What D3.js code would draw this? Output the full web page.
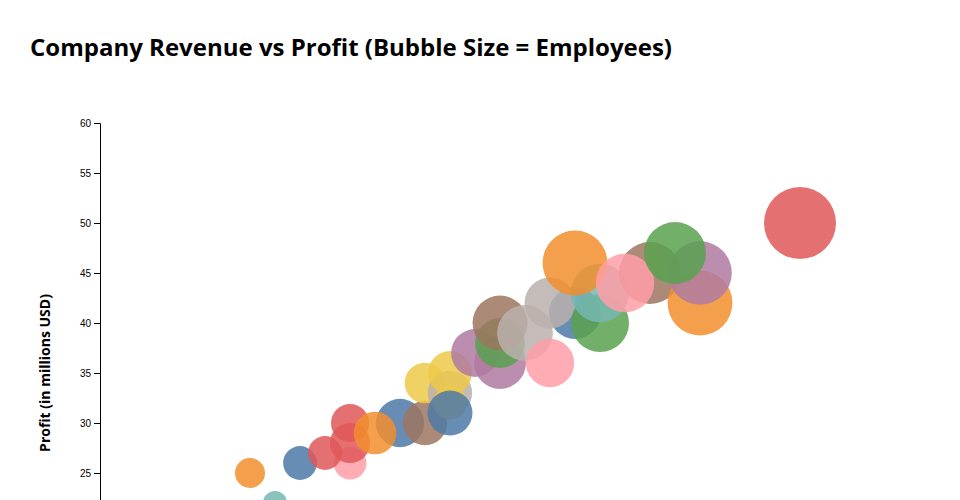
<!DOCTYPE html>
<html>
<head>
<meta charset="utf-8">
<script src="https://cdn.jsdelivr.net/npm/d3@7"></script>
<style>
	body { margin: 0; overflow: hidden; background: #fff; }
	.title { font-family: "Open Sans", sans-serif; font-weight: 700; font-size: 24px; }
	.axis-label { font-family: "Open Sans", sans-serif; font-weight: 700; font-size: 14px; }
</style>
</head>
<body>
<div id="chart"></div>
<script>
// revenue and profit in millions USD, employees as head count, sector picks the colour
var revenue   = [70, 60, 80, 100, 90, 100, 100, 120, 110, 130, 130, 140, 140, 140, 140, 150, 160, 160, 160, 170, 180, 190, 180, 200, 200, 190, 220, 210, 240, 240, 230, 280];
var profit    = [22, 25, 26, 26, 27, 28, 30, 30, 29, 30, 34, 33, 32, 35, 31, 37, 36, 38, 40, 39, 36, 41, 42, 40, 43, 46, 45, 44, 42, 45, 47, 50];
var employees = [5600, 8700, 11000, 10500, 11000, 15500, 14000, 22500, 17500, 19000, 16000, 19000, 11000, 18500, 19500, 22000, 26000, 24000, 29000, 30000, 22500, 26000, 25000, 32500, 33000, 40500, 37000, 33000, 40500, 39000, 37000, 50000];
var sector    = ["D", "B", "A", "H", "C", "C", "C", "A", "B", "I", "F", "J", "F", "F", "A", "G", "G", "E", "I", "J", "H", "A", "J", "E", "D", "B", "I", "H", "B", "G", "E", "C"];
var sectors   = ["A", "B", "C", "D", "E", "F", "G", "H", "I", "J"];

var data = revenue.map(function(d, i){
	return {revenue: d, profit: profit[i], employees: employees[i], sector: sector[i]};
});

var width = 960, height = 700,
	margins = {top: 123, right: 60, bottom: 77, left: 100},
	chart_w = width - margins.left - margins.right,
	chart_h = height - margins.top - margins.bottom;

var svg = d3.select("#chart")
	.append("svg")
		.attr("width", width)
		.attr("height", height);

svg.append("text")
	.attr("class", "title")
	.attr("x", 30)
	.attr("y", 56)
	.text("Company Revenue vs Profit (Bubble Size = Employees)");

var g = svg.append("g")
	.attr("transform", "translate(" + margins.left + "," + margins.top + ")");

var x = d3.scaleLinear().domain([0, 320]).range([0, chart_w]);
var y = d3.scaleLinear().domain([10, 60]).range([chart_h, 0]);
var r = d3.scaleSqrt().domain([0, d3.max(employees)]).range([0, 36]);
var color = d3.scaleOrdinal().domain(sectors).range(d3.schemeTableau10);

g.append("g")
	.attr("transform", "translate(0," + chart_h + ")")
	.call(d3.axisBottom(x));

g.append("g")
	.call(d3.axisLeft(y));

g.selectAll("circle")
	.data(data)
	.enter()
	.append("circle")
		.attr("cx", function(d){ return x(d.revenue) })
		.attr("cy", function(d){ return y(d.profit) })
		.attr("r", function(d){ return r(d.employees) })
		.attr("fill", function(d){ return color(d.sector) })
		.attr("opacity", 0.85);

// axis titles
g.append("text")
	.attr("class", "axis-label")
	.attr("transform", "rotate(-90)")
	.attr("x", -chart_h / 2)
	.attr("y", -50)
	.attr("text-anchor", "middle")
	.text("Profit (in millions USD)");

g.append("text")
	.attr("class", "axis-label")
	.attr("x", chart_w / 2)
	.attr("y", chart_h + 45)
	.attr("text-anchor", "middle")
	.text("Revenue (in millions USD)");
</script>
</body>
</html>
